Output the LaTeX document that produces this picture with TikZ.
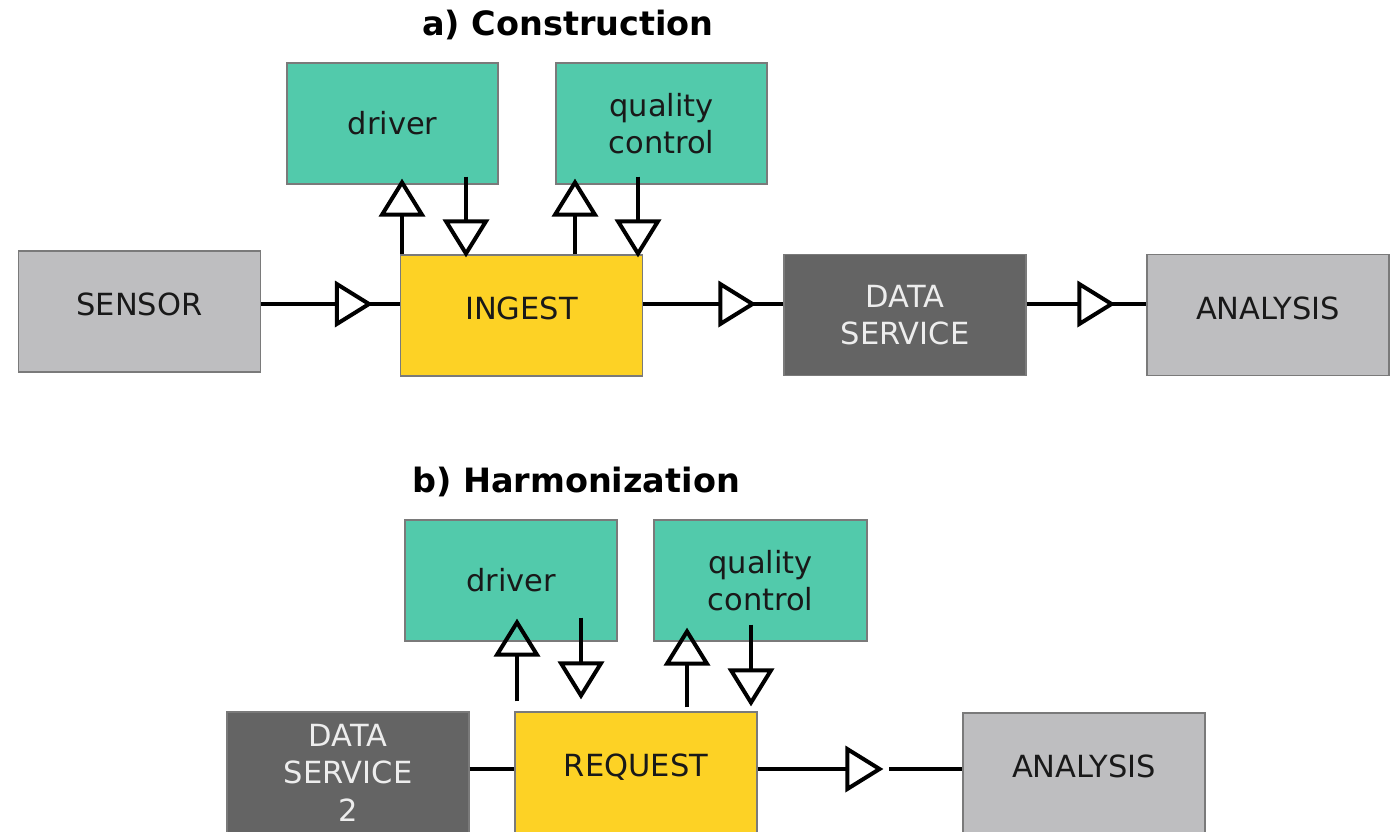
\documentclass[tikz,border=0pt]{standalone}
\usepackage{fontspec}
\setmainfont{DejaVu Sans}
\usetikzlibrary{arrows.meta,decorations.markings,calc}

\definecolor{boxteal}{HTML}{52CAAB}
\definecolor{boxyellow}{HTML}{FDD225}
\definecolor{boxlight}{HTML}{BEBEC0}
\definecolor{boxdark}{HTML}{646464}
\definecolor{edgegray}{HTML}{7A7A7A}
\definecolor{textlight}{HTML}{EDEDED}

\tikzset{
  Tri/.tip={Triangle[length=38pt,width=46pt,fill=white]},
  OpenTri/.tip={Triangle[open,length=38pt,width=46pt]},
  box/.style={draw=edgegray, line width=1.2pt, inner sep=0pt, align=center,
    font=\fontsize{30.5}{37.5}\selectfont, minimum width=242pt, minimum height=121pt},
  % single line of capitals sits a little above the middle of its box
  capsline/.style={text height=22pt, text depth=14pt},
  lightbox/.style={box, fill=boxlight, text=black!90},
  darkbox/.style={box, fill=boxdark, text=textlight},
  corebox/.style={box, fill=boxyellow, text=black!90},
  helperbox/.style={box, fill=boxteal, text=black!90, minimum width=211pt},
  title/.style={font=\fontsize{33.5}{40}\selectfont\bfseries, anchor=base},
  wire/.style={line width=4pt, draw=black},
  link/.style={wire, -{OpenTri}},
  flow/.style={wire, postaction={decorate},
    decoration={markings, mark=at position -#1 with {\arrow{Tri}}}},
  flow/.default=27pt,
}

\begin{document}
\begin{tikzpicture}[x=1pt,y=-1pt]
\useasboundingbox (0,0) rectangle (1391,831);
\clip (0,0) rectangle (1391,831);

% ---------- a) Construction ----------
\node[title] (ta) at (568,35) {a) Construction};

\node[lightbox, capsline] (sensor) at (139.5,311.5) {SENSOR};
\node[corebox, capsline]  (ingest) at (521.5,315.5) {INGEST};
\node[darkbox]            (ds)     at (905,315)     {DATA\\SERVICE};
\node[lightbox, capsline] (anaA)   at (1268,315)    {ANALYSIS};
\node[helperbox]          (drvA)   at (392.5,123.5) {driver};
\node[helperbox]          (qcA)    at (661.5,123.5) {quality\\control};

\draw[flow]      (sensor.east |- 0,304) -- (ingest.west |- 0,304);
\draw[flow]      (ingest.east |- 0,304) -- (ds.west |- 0,304);
\draw[flow=31pt] (ds.east |- 0,304)     -- (anaA.west |- 0,304);

\draw[link, shorten >=-6pt] (ingest.north -| 402,0) -- (drvA.south -| 402,0);
\draw[link, shorten <=-8pt, shorten >=-3pt] (drvA.south -| 466,0) -- (ingest.north -| 466,0);
\draw[link, shorten >=-6pt] (ingest.north -| 575,0) -- (qcA.south -| 575,0);
\draw[link, shorten <=-8pt, shorten >=-3pt] (qcA.south -| 638,0) -- (ingest.north -| 638,0);

% ---------- b) Harmonization ----------
\node[title] (tb) at (576,492) {b) Harmonization};

\node[darkbox]            (dsB)     at (348,772.5)  {DATA\\SERVICE\\2};
\node[corebox, capsline]  (request) at (636,772.5)  {REQUEST};
\node[lightbox, capsline] (anaB)    at (1084,773.5) {ANALYSIS};
\node[helperbox, minimum width=212pt] (drvB) at (511,580.5)   {driver};
\node[helperbox, minimum width=213pt] (qcB)  at (760.5,580.5) {quality\\control};

\draw[wire] (dsB.east |- 0,769) -- (request.west |- 0,769);
\draw[link] (request.east |- 0,769) -- ($(anaB.west |- 0,769)+(-79,0)$) coordinate (gap);
\draw[wire] ($(gap)+(6,0)$) -- (anaB.west |- 0,769);

\draw[link, shorten <=10pt, shorten >=-23pt] (request.north -| 517,0) -- (drvB.south -| 517,0);
\draw[link, shorten <=-24pt, shorten >=12pt] (drvB.south -| 581,0) -- (request.north -| 581,0);
\draw[link, shorten <=4pt, shorten >=-14pt] (request.north -| 687,0) -- (qcB.south -| 687,0);
\draw[link, shorten <=-17pt, shorten >=5pt] (qcB.south -| 751,0) -- (request.north -| 751,0);
\end{tikzpicture}
\end{document}
